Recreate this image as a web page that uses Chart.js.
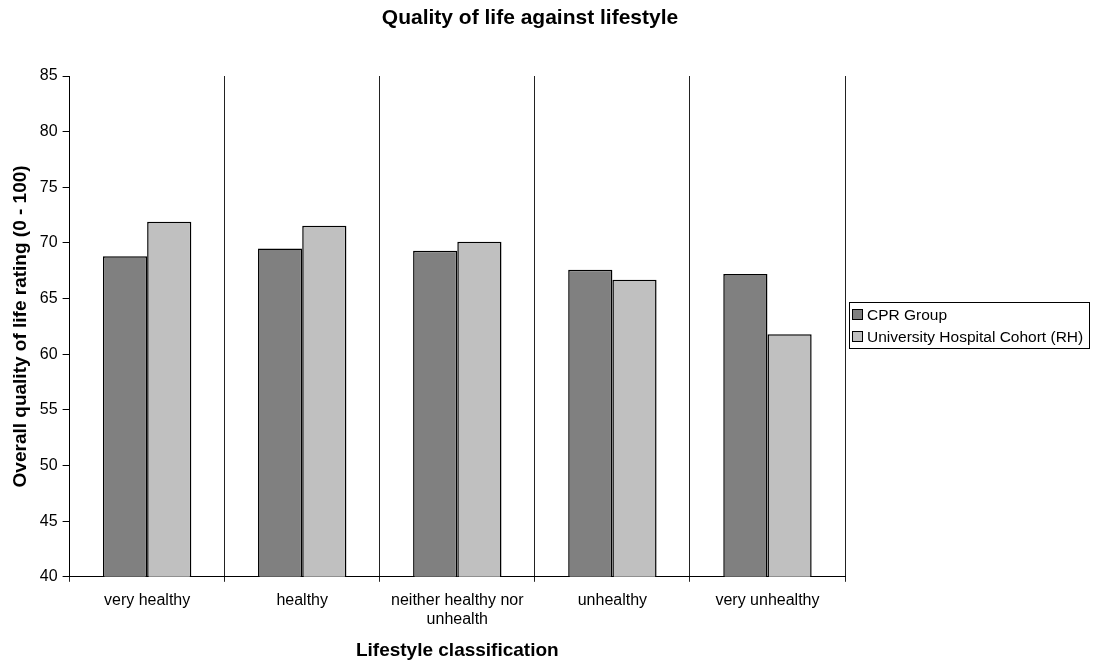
<!DOCTYPE html>
<html>
<head>
<meta charset="utf-8">
<script src="https://cdn.jsdelivr.net/npm/chart.js@4.4.0/dist/chart.umd.min.js"></script>
<style>
  html, body { margin: 0; padding: 0; background: #fff; }
  #wrap { width: 1098px; height: 662px; position: relative; }
</style>
</head>
<body>
<div id="wrap"><canvas id="chart"></canvas></div>
<script>
const categories = [
  "very healthy",
  "healthy",
  ["neither healthy nor", "unhealth"],
  "unhealthy",
  "very unhealthy",
];
const cprGroup = [68.8, 69.5, 69.3, 67.6, 67.2];
const rhCohort = [71.9, 71.55, 70.1, 66.7, 61.8];
const seriesNames = ["CPR Group", "University Hospital Cohort (RH)"];
const chartTitle = "Quality of life against lifestyle";

const FONT = "'Liberation Sans', Arial, sans-serif";

// title + boxed legend drawn by hand, so the plot area keeps its place
const decorations = {
  id: "decorations",
  afterDraw(chart) {
    const { ctx } = chart;
    ctx.save();
    ctx.fillStyle = "#000";
    ctx.font = "bold 21px " + FONT;
    ctx.textAlign = "center";
    ctx.textBaseline = "middle";
    ctx.fillText(chartTitle, 530, 18);

    const x = 849, y = 302, w = 240, h = 46;
    ctx.strokeStyle = "#000";
    ctx.lineWidth = 1;
    ctx.strokeRect(x + 0.5, y + 0.5, w, h);
    ctx.font = "15.5px " + FONT;
    ctx.textAlign = "left";
    chart.data.datasets.forEach((ds, i) => {
      const cy = y + 13 + i * 22;
      ctx.fillStyle = ds.backgroundColor;
      ctx.fillRect(x + 3.5, cy - 5.5, 10, 10);
      ctx.strokeRect(x + 3.5, cy - 5.5, 10, 10);
      ctx.fillStyle = "#000";
      ctx.fillText(ds.label, x + 18, cy + 1);
    });
    ctx.restore();
  },
};

new Chart(document.getElementById("chart"), {
  type: "bar",
  data: {
    labels: categories,
    datasets: [
      {
        label: seriesNames[0],
        data: cprGroup,
        backgroundColor: "#808080",
        borderColor: "#000",
        borderWidth: 1.5,
        borderSkipped: "bottom",
        categoryPercentage: 0.57,
        barPercentage: 1.0,
      },
      {
        label: seriesNames[1],
        data: rhCohort,
        backgroundColor: "#C0C0C0",
        borderColor: "#000",
        borderWidth: 1.5,
        borderSkipped: "bottom",
        categoryPercentage: 0.57,
        barPercentage: 1.0,
      },
    ],
  },
  options: {
    responsive: true,
    maintainAspectRatio: false,
    animation: false,
    layout: { padding: { left: 6, right: 253, top: 76, bottom: 0 } },
    plugins: {
      legend: { display: false },
      tooltip: { enabled: false },
      title: { display: false },
    },
    scales: {
      x: {
        type: "category",
        offset: true,
        grid: {
          offset: true,
          color: "#222",
          lineWidth: 1,
          drawOnChartArea: true,
          drawTicks: true,
          tickLength: 5,
        },
        border: { color: "#000", width: 1 },
        ticks: {
          color: "#000",
          font: { family: FONT, size: 16 },
          maxRotation: 0,
          autoSkip: false,
          padding: 9,
        },
        title: {
          display: true,
          text: "Lifestyle classification",
          color: "#000",
          font: { family: FONT, size: 19, weight: "bold" },
          padding: { top: 1, bottom: 0 },
        },
      },
      y: {
        min: 40,
        max: 85,
        ticks: {
          stepSize: 5,
          color: "#000",
          font: { family: FONT, size: 16 },
          padding: 5,
        },
        grid: {
          drawOnChartArea: false,
          drawTicks: true,
          tickLength: 7,
          color: "#000",
        },
        border: { color: "#000", width: 1 },
        title: {
          display: true,
          text: "Overall quality of life rating (0 - 100)",
          color: "#000",
          font: { family: FONT, size: 19, weight: "bold" },
          padding: { top: 3, bottom: 3 },
        },
      },
    },
  },
  plugins: [decorations],
});
</script>
</body>
</html>
